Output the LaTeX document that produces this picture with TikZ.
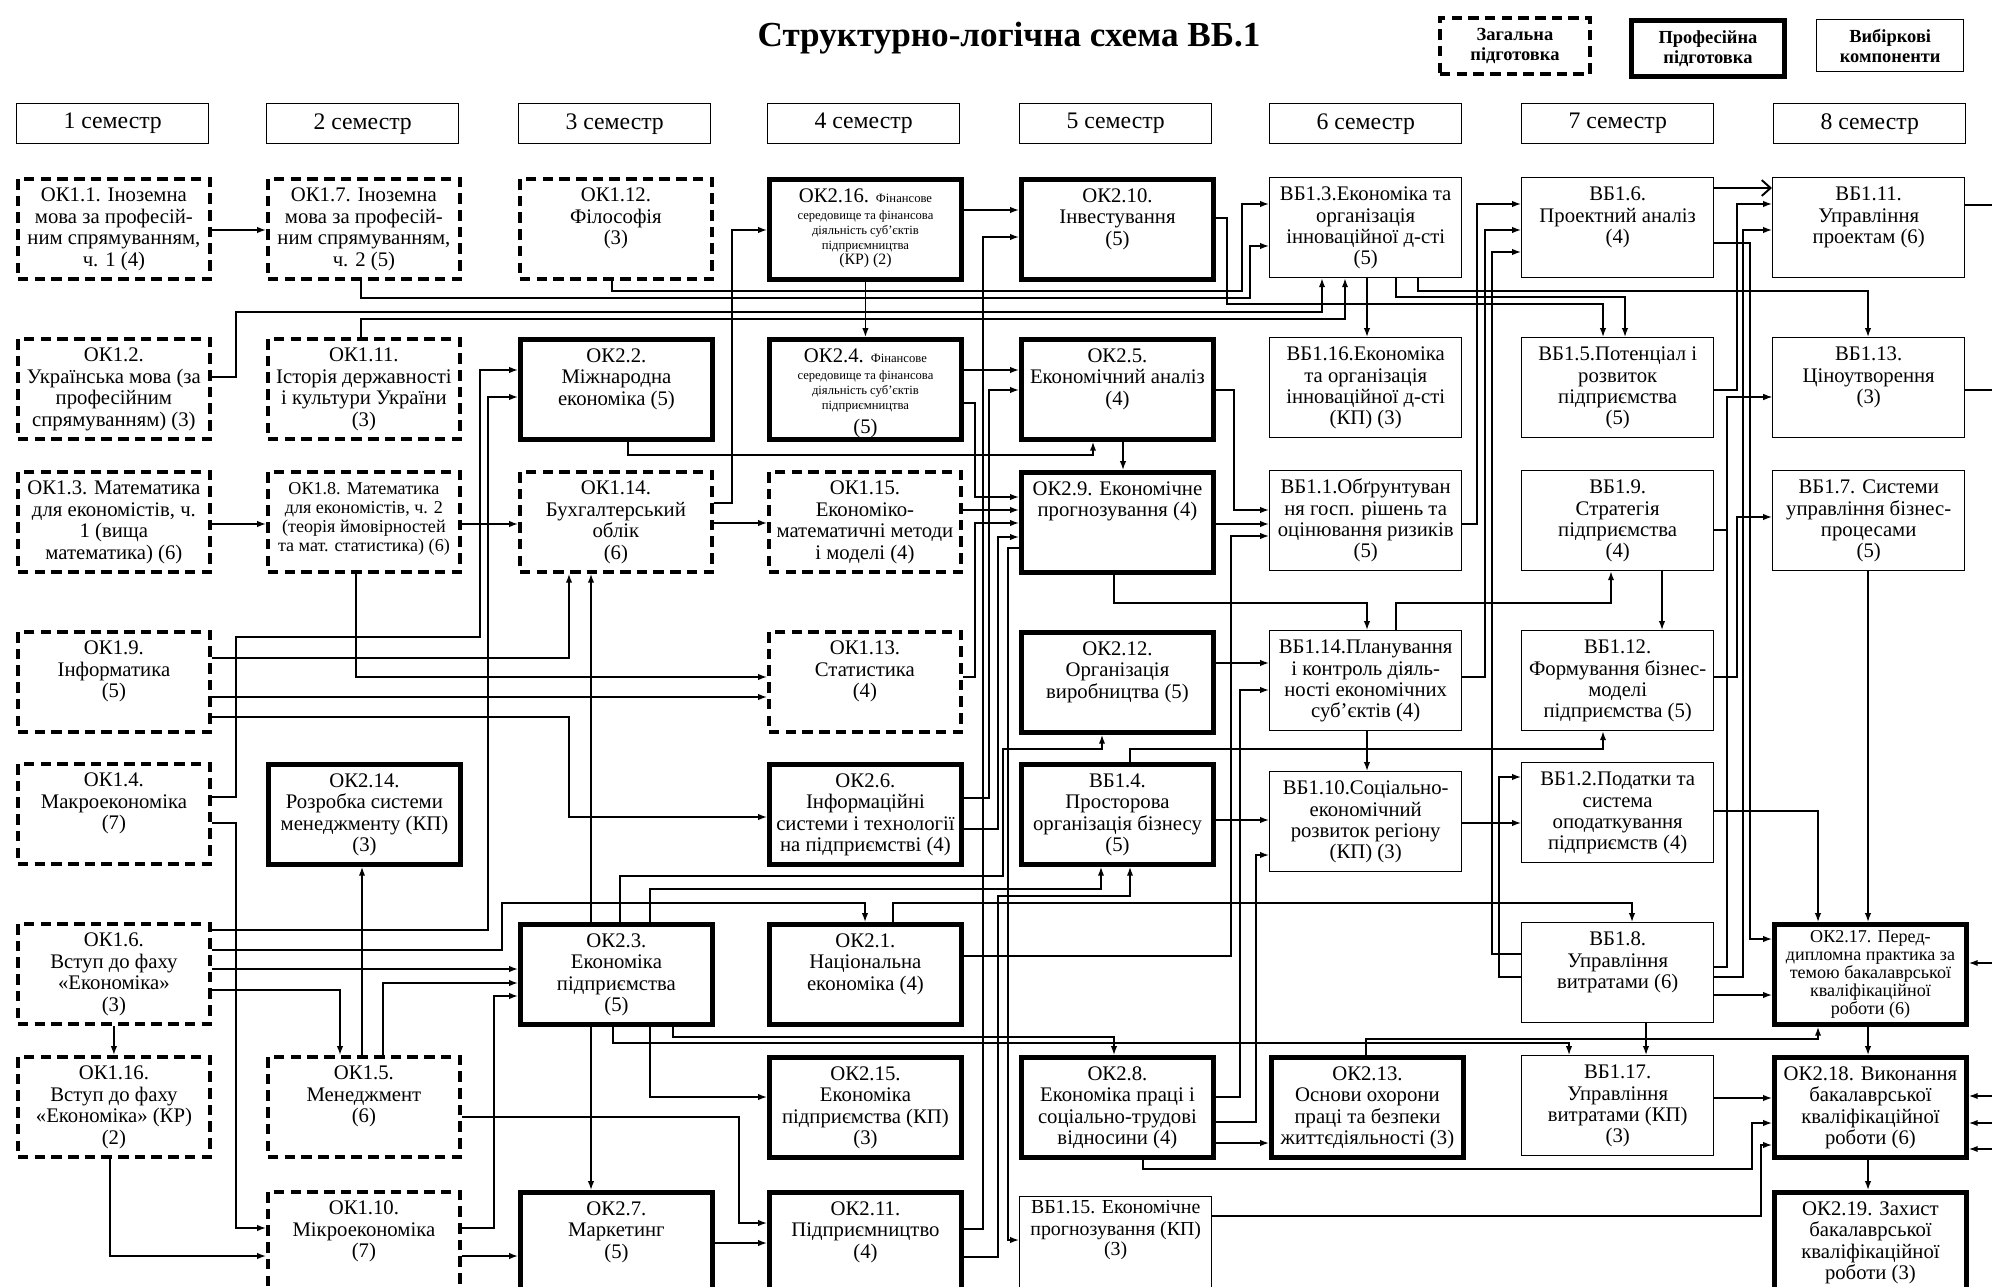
\documentclass[tikz,border=0pt]{standalone}
\usepackage{fontspec}
\setmainfont{Liberation Serif}
\usetikzlibrary{arrows.meta,positioning}
\newcommand{\bx}[2][4.5pt]{\parbox[c][2cm][t]{3.8cm}{\centering\vspace*{#1}\strut#2\strut}}

\begin{document}
\begin{tikzpicture}[x=0.02cm, y=-0.02cm,
  box/.style={anchor=north west, inner sep=0pt, minimum width=3.84cm, minimum height=2cm,
    font=\fontsize{11.8}{12.2}\selectfont},
  zag/.style={box, draw, line width=2.2pt, dash pattern=on 6pt off 3.5pt},
  prof/.style={box, draw, line width=2.8pt},
  vyb/.style={box, draw, line width=0.8pt},
  sem/.style={draw, line width=0.8pt, anchor=north west, minimum width=3.84cm,
    minimum height=0.8cm, font=\fontsize{13.5}{15}\selectfont},
  ln/.style={line width=0.8pt},
  arr/.style={ln, -{Latex[length=5pt,width=3.6pt]}},
  barb/.style={line width=1.1pt, -{Straight Barb[length=5pt,width=9pt]}}]

  \useasboundingbox (0,0) rectangle (1992,1287);

  % Title and legend
  \node[font=\bfseries\fontsize{20}{22}\selectfont] (title) at (1009,38) {Структурно-логічна схема ВБ.1};
  \node[zag, minimum width=3cm, minimum height=1.12cm, align=center,
    font=\bfseries\fontsize{10.5}{11.5}\selectfont] (lzag) at (1438,16) {Загальна\\підготовка};
  \node[prof, minimum width=3.06cm, minimum height=1.12cm, align=center,
    font=\bfseries\fontsize{10.5}{11.5}\selectfont] (lprof) at (1629,18) {Професійна\\підготовка};
  \node[vyb, minimum width=2.94cm, minimum height=1.04cm, align=center,
    font=\bfseries\fontsize{10.5}{11.5}\selectfont] (lvyb) at (1816,19) {Вибіркові\\компоненти};

  % Semesters
  \foreach \i/\xx in {1/16,2/266,3/518,4/767,5/1019,6/1269,7/1521,8/1773}
    \node[sem] (sem\i) at (\xx,103) {\i~семестр};

  % Semester 1
  \node[zag] (ok11) at (16,177) {\bx{ОК1.1. Іноземна\\мова за професій-\\ним спрямуванням,\\ч. 1 (4)}};
  \node[zag] (ok12) at (16,337) {\bx{ОК1.2.\\Українська мова (за\\професійним\\спрямуванням) (3)}};
  \node[zag] (ok13) at (16,470) {\bx{ОК1.3. Математика\\для економістів, ч.\\1 (вища\\математика) (6)}};
  \node[zag] (ok19) at (16,630) {\bx{ОК1.9.\\Інформатика\\(5)}};
  \node[zag] (ok14) at (16,762) {\bx{ОК1.4.\\Макроекономіка\\(7)}};
  \node[zag] (ok16) at (16,922) {\bx{ОК1.6.\\Вступ до фаху\\«Економіка»\\(3)}};
  \node[zag] (ok116) at (16,1055) {\bx{ОК1.16.\\Вступ до фаху\\«Економіка» (КР)\\(2)}};

  % Semester 2
  \node[zag] (ok17) at (266,177) {\bx{ОК1.7. Іноземна\\мова за професій-\\ним спрямуванням,\\ч. 2 (5)}};
  \node[zag] (ok111) at (266,337) {\bx{ОК1.11.\\Історія державності\\і культури України\\(3)}};
  \node[zag] (ok18) at (266,470) {\bx{\fontsize{10.3}{10.8}\selectfont ОК1.8. Математика\\для економістів, ч. 2\\(теорія ймовірностей\\та мат. статистика) (6)}};
  \node[prof] (ok214) at (266,762) {\bx{ОК2.14.\\Розробка системи\\менеджменту (КП)\\(3)}};
  \node[zag] (ok15) at (266,1055) {\bx{ОК1.5.\\Менеджмент\\(6)}};
  \node[zag] (ok110) at (266,1190) {\bx{ОК1.10.\\Мікроекономіка\\(7)}};

  % Semester 3
  \node[zag] (ok112) at (518,177) {\bx{ОК1.12.\\Філософія\\(3)}};
  \node[prof] (ok22) at (518,337) {\bx{ОК2.2.\\Міжнародна\\економіка (5)}};
  \node[zag] (ok114) at (518,470) {\bx{ОК1.14.\\Бухгалтерський\\облік\\(6)}};
  \node[prof] (ok23) at (518,922) {\bx{ОК2.3.\\Економіка\\підприємства\\(5)}};
  \node[prof] (ok27) at (518,1190) {\bx{ОК2.7.\\Маркетинг\\(5)}};

  % Semester 4
  \node[prof] (ok216) at (767,177) {\bx{ОК2.16. \fontsize{7.2}{8.6}\selectfont Фінансове\\середовище та фінансова\\діяльність суб’єктів\\підприємництва\\{\fontsize{9}{8.6}\selectfont (КР) (2)}}};
  \node[prof] (ok24) at (767,337) {\bx{ОК2.4. \fontsize{7.2}{8.6}\selectfont Фінансове\\середовище та фінансова\\діяльність суб’єктів\\підприємництва\\[3pt]{\fontsize{11.8}{8.6}\selectfont (5)}}};
  \node[zag] (ok115) at (767,470) {\bx{ОК1.15.\\Економіко-\\математичні методи\\і моделі (4)}};
  \node[zag] (ok113) at (767,630) {\bx{ОК1.13.\\Статистика\\(4)}};
  \node[prof] (ok26) at (767,762) {\bx{ОК2.6.\\Інформаційні\\системи і технології\\на підприємстві (4)}};
  \node[prof] (ok21) at (767,922) {\bx{ОК2.1.\\Національна\\економіка (4)}};
  \node[prof] (ok215) at (767,1055) {\bx{ОК2.15.\\Економіка\\підприємства (КП)\\(3)}};
  \node[prof] (ok211) at (767,1190) {\bx{ОК2.11.\\Підприємництво\\(4)}};

  % Semester 5
  \node[prof] (ok210) at (1019,177) {\bx{ОК2.10.\\Інвестування\\(5)}};
  \node[prof] (ok25) at (1019,337) {\bx{ОК2.5.\\Економічний аналіз\\(4)}};
  \node[prof] (ok29) at (1019,470) {\bx{ОК2.9. Економічне\\прогнозування (4)}};
  \node[prof] (ok212) at (1019,630) {\bx{ОК2.12.\\Організація\\виробництва (5)}};
  \node[prof] (vb14) at (1019,762) {\bx{ВБ1.4.\\Просторова\\організація бізнесу\\(5)}};
  \node[prof] (ok28) at (1019,1055) {\bx{ОК2.8.\\Економіка праці і\\соціально-трудові\\відносини (4)}};
  \node[vyb] (vb115) at (1019,1196) {\bx[1pt]{\fontsize{11.3}{9.8}\selectfont ВБ1.15. Економічне\\прогнозування (КП)\\(3)}};

  % Semester 6
  \node[vyb] (vb13) at (1269,177) {\bx{ВБ1.3.Економіка та\\організація\\інноваційної д-сті\\(5)}};
  \node[vyb] (vb116) at (1269,337) {\bx{ВБ1.16.Економіка\\та організація\\інноваційної д-сті\\(КП) (3)}};
  \node[vyb] (vb11) at (1269,470) {\bx{ВБ1.1.Обґрунтуван\\ня госп. рішень та\\оцінювання ризиків\\(5)}};
  \node[vyb] (vb114) at (1269,630) {\bx{ВБ1.14.Планування\\і контроль діяль-\\ності економічних\\суб’єктів (4)}};
  \node[vyb] (vb110) at (1269,771) {\bx{ВБ1.10.Соціально-\\економічний\\розвиток регіону\\(КП) (3)}};
  \node[prof] (ok213) at (1269,1055) {\bx{ОК2.13.\\Основи охорони\\праці та безпеки\\життєдіяльності (3)}};

  % Semester 7
  \node[vyb] (vb16) at (1521,177) {\bx{ВБ1.6.\\Проектний аналіз\\(4)}};
  \node[vyb] (vb15) at (1521,337) {\bx{ВБ1.5.Потенціал і\\розвиток\\підприємства\\(5)}};
  \node[vyb] (vb19) at (1521,470) {\bx{ВБ1.9.\\Стратегія\\підприємства\\(4)}};
  \node[vyb] (vb112) at (1521,630) {\bx{ВБ1.12.\\Формування бізнес-\\моделі\\підприємства (5)}};
  \node[vyb] (vb12) at (1521,762) {\bx{ВБ1.2.Податки та\\система\\оподаткування\\підприємств (4)}};
  \node[vyb] (vb18) at (1521,922) {\bx{ВБ1.8.\\Управління\\витратами (6)}};
  \node[vyb] (vb117) at (1521,1055) {\bx{ВБ1.17.\\Управління\\витратами (КП)\\(3)}};

  % Semester 8
  \node[vyb] (vb111) at (1772,177) {\bx{ВБ1.11.\\Управління\\проектам (6)}};
  \node[vyb] (vb113) at (1772,337) {\bx{ВБ1.13.\\Ціноутворення\\(3)}};
  \node[vyb] (vb17) at (1772,470) {\bx{ВБ1.7. Системи\\управління бізнес-\\процесами\\(5)}};
  \node[prof] (ok217) at (1772,922) {\bx[2pt]{\fontsize{10.3}{10.2}\selectfont ОК2.17. Перед-\\дипломна практика за\\темою бакалаврської\\кваліфікаційної\\роботи (6)}};
  \node[prof] (ok218) at (1772,1055) {\bx{ОК2.18. Виконання\\бакалаврської\\кваліфікаційної\\роботи (6)}};
  \node[prof] (ok219) at (1772,1190) {\bx{ОК2.19. Захист\\бакалаврської\\кваліфікаційної\\роботи (3)}};

  % Free ends at the right edge
  \coordinate (e1) at (1992,205);
  \coordinate (e2) at (1992,390);
  \coordinate (e3) at (1992,963);
  \coordinate (e4) at (1992,1096);
  \coordinate (e5) at (1992,1123);
  \coordinate (e6) at (1992,1149);

  % Connectors, semesters 1-2
  \draw[arr] (ok11.east |- 0,230) -- (ok17.west |- 0,230);
  \draw[arr] (ok13.east |- 0,524) -- (ok18.west |- 0,524);
  \draw[arr] (ok16.south) -- (ok116.north);
  \draw[arr] (ok12.east |- 0,377) -| (236,312) -| (vb13.south -| 1322,0);
  \draw[arr] (ok111.north -| 361,0) |- (1345,319) -- (vb13.south -| 1345,0);
  \draw[arr] (ok17.south -| 361,0) |- (1250,298) |- (vb13.west |- 0,246);
  \draw[arr] (ok16.east |- 0,930) -| (488,397) -- (ok22.west |- 0,397);
  \draw[arr] (ok14.east |- 0,797) -| (236,637) -| (480,370) -- (ok22.west |- 0,370);
  \draw[arr] (ok14.east |- 0,823) -| (236,1228) -- (ok110.west |- 0,1228);
  \draw[arr] (ok116.south -| 110,0) |- (ok110.west |- 0,1256);
  \draw[arr] (ok16.east |- 0,990) -| (ok15.north -| 340,0);
  \draw[arr] (ok15.north -| 362,0) -- (ok214.south -| 362,0);
  \draw[arr] (ok15.north -| 383,0) |- (ok23.west |- 0,983);
  \draw[arr] (ok16.east |- 0,969) -- (ok23.west |- 0,969);
  \draw[arr] (ok110.east |- 0,1228) -| (494,996) -- (ok23.west |- 0,996);
  \draw[arr] (ok110.east |- 0,1256) -- (ok27.west |- 0,1256);
  \draw[arr] (ok15.east |- 0,1117) -| (739,1223) -- (ok211.west |- 0,1223);
  \draw[arr] (ok16.east |- 0,950) -| (502,903) -| (ok21.north -| 865,0);
  \draw[arr] (ok18.east |- 0,524) -- (ok114.west |- 0,524);
  \draw[arr] (ok19.east |- 0,658) -| (ok114.south -| 569,0);
  \draw[arr] (ok18.south -| 356,0) |- (ok113.west |- 0,677);
  \draw[arr] (ok19.east |- 0,697) -- (ok113.west |- 0,697);
  \draw[arr] (ok19.east |- 0,717) -| (569,817) -- (ok26.west |- 0,817);

  % Connectors, semesters 3-4
  \draw[arr] (ok112.south -| 612,0) |- (1242,291) |- (vb13.west |- 0,204);
  \draw[arr] (ok27.east |- 0,1243) -- (ok211.west |- 0,1243);
  \draw[arr] (ok23.south -| 591,0) -- (ok27.north -| 591,0);
  \draw[arr] (ok23.north -| 591,0) -- (ok114.south -| 591,0);
  \draw[arr] (ok23.south -| 650,0) |- (ok215.west |- 0,1097);
  \draw[arr] (ok23.south -| 613,0) |- (1569,1043) -- (vb117.north -| 1569,0);
  \draw[arr] (ok23.south -| 673,0) |- (1114,1037) -- (ok28.north -| 1114,0);
  \draw[arr] (ok23.north -| 620,0) |- (1003,876) |- (1102,749) -- (ok212.south -| 1102,0);
  \draw[arr] (ok23.north -| 650,0) |- (1101,889) -- (vb14.south -| 1101,0);
  \draw[arr] (ok114.east |- 0,503) -| (732,230) -- (ok216.west |- 0,230);
  \draw[arr] (ok114.east |- 0,523) -- (ok115.west |- 0,523);
  \draw[arr] (ok22.south -| 628,0) |- (1093,455) -- (ok25.south -| 1093,0);
  \draw[arr] (ok216.south) -- (ok24.north);
  \draw[arr] (ok216.east |- 0,210) -- (ok210.west |- 0,210);
  \draw[arr] (ok211.east |- 0,1229) -| (983,237) -- (ok210.west |- 0,237);
  \draw[arr] (ok211.east |- 0,1257) -| (998,896) -| (vb14.south -| 1130,0);
  \draw[arr] (ok24.east |- 0,370) -- (ok25.west |- 0,370);
  \draw[arr] (ok26.east |- 0,798) -| (989,390) -- (ok25.west |- 0,390);
  \draw[arr] (ok24.east |- 0,403) -| (975,497) -- (ok29.west |- 0,497);
  \draw[arr] (ok115.east |- 0,510) -- (ok29.west |- 0,510);
  \draw[arr] (ok113.east |- 0,677) -| (975,523) -- (ok29.west |- 0,523);
  \draw[arr] (ok26.east |- 0,829) -| (998,537) -- (ok29.west |- 0,537);
  \draw[arr] (ok21.north -| 893,0) |- (1632,903) -- (vb18.north -| 1632,0);
  \draw[arr] (ok21.east |- 0,956) -| (1231,536) -- (vb11.west |- 0,536);

  % Connectors, semesters 5-6
  \draw[arr] (ok210.east |- 0,218) -| (1227,304) -| (vb15.north -| 1603,0);
  \draw[arr] (ok25.south -| 1123,0) -- (ok29.north -| 1123,0);
  \draw[arr] (ok25.east |- 0,390) -| (1234,510) -- (vb11.west |- 0,510);
  \draw[arr] (ok29.west |- 0,548) -| (1008,1240) -- (vb115.west |- 0,1240);
  \draw[arr] (ok29.east |- 0,524) -- (vb11.west |- 0,524);
  \draw[arr] (ok29.south -| 1114,0) |- (1367,603) -- (vb114.north -| 1367,0);
  \draw[arr] (ok212.east |- 0,663) -- (vb114.west |- 0,663);
  \draw[arr] (ok28.east |- 0,1097) -| (1240,690) -- (vb114.west |- 0,690);
  \draw[arr] (ok28.east |- 0,1122) -| (1256,855) -- (vb110.west |- 0,855);
  \draw[arr] (vb14.east |- 0,820) -- (vb110.west |- 0,820);
  \draw[arr] (ok28.east |- 0,1143) -- (ok213.west |- 0,1143);
  \draw[arr] (ok28.south -| 1143,0) |- (1752,1169) |- (ok218.west |- 0,1123);
  \draw[arr] (vb115.east |- 0,1216) -| (1761,1145) -- (ok218.west |- 0,1145);
  \draw[arr] (ok213.north -| 1366,0) |- (1818,1039) -- (ok217.south -| 1818,0);
  \draw[arr] (vb13.south -| 1367,0) -- (vb116.north -| 1367,0);
  \draw[arr] (vb13.south -| 1396,0) |- (1625,297) -- (vb15.north -| 1625,0);
  \draw[arr] (vb13.south -| 1418,0) |- (1868,291) -- (vb113.north -| 1868,0);
  \draw[arr] (vb114.south -| 1367,0) -- (vb110.north -| 1367,0);
  \draw[arr] (vb114.north -| 1396,0) |- (1611,603) -- (vb19.south -| 1611,0);
  \draw[arr] (vb14.north -| 1130,0) |- (1603,749) -- (vb112.south -| 1603,0);
  \draw[arr] (vb11.east |- 0,524) -| (1477,204) -- (vb16.west |- 0,204);
  \draw[arr] (vb114.east |- 0,677) -| (1485,230) -- (vb16.west |- 0,230);
  \draw[arr] (vb110.east |- 0,823) -- (vb12.west |- 0,823);

  % Connectors, semesters 7-8
  \draw[arr] (vb18.west |- 0,954) -| (1492,252) -- (vb16.west |- 0,252);
  \draw[arr] (vb18.west |- 0,977) -| (1499,777) -- (vb12.west |- 0,777);
  \draw[barb] (vb16.east |- 0,188) -- (vb111.west |- 0,188);
  \draw[arr] (vb16.east |- 0,243) -| (1750,939) -- (ok217.west |- 0,939);
  \draw[arr] (vb15.east |- 0,390) -| (1737,204) -- (vb111.west |- 0,204);
  \draw[arr] (vb18.east |- 0,977) -| (1743,230) -- (vb111.west |- 0,230);
  \draw[arr] (vb19.east |- 0,530) -| (1727,397) -- (vb113.west |- 0,397);
  \draw[arr] (vb18.east |- 0,967) -| (1727,397) -- (vb113.west |- 0,397);
  \draw[arr] (vb112.east |- 0,677) -| (1737,517) -- (vb17.west |- 0,517);
  \draw[arr] (vb19.south -| 1662,0) -- (vb112.north -| 1662,0);
  \draw[arr] (vb12.east |- 0,811) -| (ok217.north -| 1818,0);
  \draw[arr] (vb17.south -| 1868,0) -- (ok217.north -| 1868,0);
  \draw[arr] (vb18.east |- 0,995) -- (ok217.west |- 0,995);
  \draw[arr] (vb18.south -| 1646,0) -- (vb117.north -| 1646,0);
  \draw[arr] (vb117.east |- 0,1098) -- (ok218.west |- 0,1098);
  \draw[arr] (ok217.south -| 1868,0) -- (ok218.north -| 1868,0);
  \draw[arr] (ok218.south -| 1868,0) -- (ok219.north -| 1868,0);
  \draw[ln] (vb111.east |- 0,205) -- (e1);
  \draw[ln] (vb113.east |- 0,390) -- (e2);
  \draw[arr] (e3) -- (ok217.east |- 0,963);
  \draw[arr] (e4) -- (ok218.east |- 0,1096);
  \draw[arr] (e5) -- (ok218.east |- 0,1123);
  \draw[arr] (e6) -- (ok218.east |- 0,1149);

\end{tikzpicture}
\end{document}
